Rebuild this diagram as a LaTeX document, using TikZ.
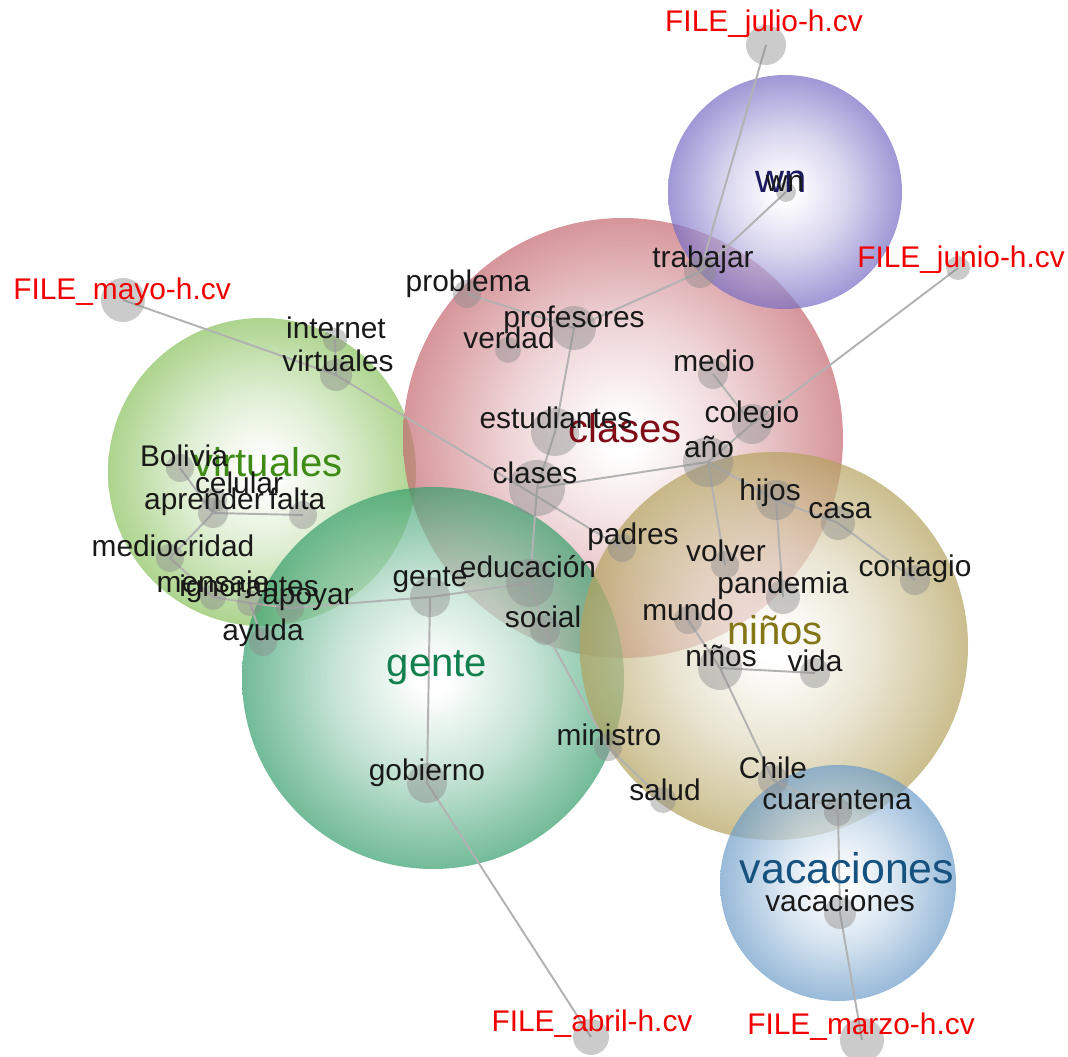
\documentclass[tikz,border=0pt]{standalone}
\usepackage{fontspec}
\setmainfont{Liberation Sans}
\usepackage{xcolor}
\usepackage{tikz}
\usetikzlibrary{calc}

\definecolor{clasesc}{RGB}{196,104,112}
\definecolor{virtc}{RGB}{138,194,94}
\definecolor{gentec}{RGB}{54,158,108}
\definecolor{ninosc}{RGB}{180,162,94}
\definecolor{wnc}{RGB}{118,108,196}
\definecolor{vacac}{RGB}{108,156,200}

\pgfdeclareradialshading{clasesbg}{\pgfpoint{0bp}{0bp}}{color(0bp)=(white); color(2bp)=(white); color(13bp)=(clasesc!40); color(25bp)=(clasesc); color(50bp)=(clasesc)}
\pgfdeclareradialshading{virtbg}{\pgfpoint{0bp}{0bp}}{color(0bp)=(white); color(2bp)=(white); color(13bp)=(virtc!40); color(25bp)=(virtc); color(50bp)=(virtc)}
\pgfdeclareradialshading{gentebg}{\pgfpoint{0bp}{0bp}}{color(0bp)=(white); color(2bp)=(white); color(13bp)=(gentec!40); color(25bp)=(gentec); color(50bp)=(gentec)}
\pgfdeclareradialshading{ninosbg}{\pgfpoint{0bp}{0bp}}{color(0bp)=(white); color(2bp)=(white); color(13bp)=(ninosc!40); color(25bp)=(ninosc); color(50bp)=(ninosc)}
\pgfdeclareradialshading{wnbg}{\pgfpoint{0bp}{0bp}}{color(0bp)=(white); color(2bp)=(white); color(13bp)=(wnc!40); color(25bp)=(wnc); color(50bp)=(wnc)}
\pgfdeclareradialshading{vacabg}{\pgfpoint{0bp}{0bp}}{color(0bp)=(white); color(2bp)=(white); color(13bp)=(vacac!40); color(25bp)=(vacac); color(50bp)=(vacac)}

\definecolor{clasest}{RGB}{128,12,24}
\definecolor{virtt}{RGB}{62,140,22}
\definecolor{gentet}{RGB}{18,128,78}
\definecolor{ninost}{RGB}{132,118,22}
\definecolor{wnt}{RGB}{28,26,96}
\definecolor{vacat}{RGB}{22,82,128}

\begin{document}
\begin{tikzpicture}[x=0.02cm, y=-0.02cm,
    word/.style={anchor=base, inner sep=0pt, text=black!90, font=\fontsize{17}{17}\selectfont},
    file/.style={word, text=red!95!black},
    topic/.style={anchor=base, inner sep=0pt, font=\fontsize{22.8}{23}\selectfont},
    dot/.style={fill=black!45, fill opacity=0.45},
    link/.style={draw=black!30, line width=1.1pt},
    bubble/.style={fill opacity=0.7}]
  \useasboundingbox (0,0) rectangle (1068,1057);

  % word positions
  \coordinate (julio) at (766,45);
  \coordinate (junio) at (958,268);
  \coordinate (mayo) at (123,300);
  \coordinate (abril) at (591,1037);
  \coordinate (marzo) at (862,1040);
  \coordinate (wn) at (786,192);
  \coordinate (trabajar) at (700,272);
  \coordinate (problema) at (467,294);
  \coordinate (profesores) at (574,328);
  \coordinate (verdad) at (508,350);
  \coordinate (internet) at (335,340);
  \coordinate (virtuales) at (336,375);
  \coordinate (medio) at (713,374);
  \coordinate (colegio) at (752,424);
  \coordinate (estudiantes) at (555,432);
  \coordinate (clases) at (537,488);
  \coordinate (anio) at (708,462);
  \coordinate (hijos) at (776,500);
  \coordinate (casa) at (838,523);
  \coordinate (contagio) at (915,580);
  \coordinate (padres) at (622,548);
  \coordinate (volver) at (725,565);
  \coordinate (pandemia) at (783,597);
  \coordinate (mundo) at (688,620);
  \coordinate (ninos) at (720,668);
  \coordinate (vida) at (815,673);
  \coordinate (educacion) at (530,583);
  \coordinate (gente) at (430,597);
  \coordinate (social) at (545,630);
  \coordinate (bolivia) at (180,468);
  \coordinate (celular) at (215,500);
  \coordinate (aprender) at (213,513);
  \coordinate (falta) at (303,515);
  \coordinate (mediocridad) at (170,558);
  \coordinate (mensaje) at (213,597);
  \coordinate (ignorantes) at (250,603);
  \coordinate (apoyar) at (290,608);
  \coordinate (ayuda) at (263,642);
  \coordinate (ministro) at (608,747);
  \coordinate (gobierno) at (427,783);
  \coordinate (salud) at (663,800);
  \coordinate (chile) at (773,780);
  \coordinate (cuarentena) at (838,812);
  \coordinate (vacaciones) at (840,913);

  % topic bubbles
  \shade[shading=virtbg, bubble] (262,472) circle (154);
  \shade[shading=clasesbg, bubble] (623,438) circle (220);
  \shade[shading=gentebg, bubble] (433,678) circle (191);
  \shade[shading=ninosbg, bubble] (774,646) circle (194);
  \shade[shading=wnbg, bubble] (785,192) circle (117);
  \shade[shading=vacabg, bubble] (838,883) circle (118);

  % links
  \draw[link] (julio) -- (trabajar);
  \draw[link] (wn) -- (trabajar);
  \draw[link] (trabajar) -- (profesores);
  \draw[link] (problema) -- (profesores);
  \draw[link] (profesores) -- (estudiantes);
  \draw[link] (estudiantes) -- (clases);
  \draw[link] (mayo) -- (virtuales);
  \draw[link] (internet) -- (virtuales);
  \draw[link] (virtuales) -- (padres);
  \draw[link] (clases) -- (anio);
  \draw[link] (clases) -- (educacion);
  \draw[link] (educacion) -- (gente);
  \draw[link] (educacion) -- (social);
  \draw[link] (social) -- (ministro);
  \draw[link] (ministro) -- (salud);
  \draw[link] (gente) -- (apoyar);
  \draw[link] (apoyar) -- (ignorantes);
  \draw[link] (ignorantes) -- (mensaje);
  \draw[link] (mensaje) -- (mediocridad);
  \draw[link] (mediocridad) -- (aprender);
  \draw[link] (aprender) -- (bolivia);
  \draw[link] (aprender) -- (falta);
  \draw[link] (aprender) -- (celular);
  \draw[link] (ignorantes) -- (ayuda);
  \draw[link] (gente) -- (gobierno);
  \draw[link] (gobierno) -- (abril);
  \draw[link] (anio) -- (colegio);
  \draw[link] (colegio) -- (medio);
  \draw[link] (colegio) -- (junio);
  \draw[link] (anio) -- (hijos);
  \draw[link] (anio) -- (volver);
  \draw[link] (hijos) -- (casa);
  \draw[link] (casa) -- (contagio);
  \draw[link] (hijos) -- (pandemia);
  \draw[link] (mundo) -- (ninos);
  \draw[link] (ninos) -- (vida);
  \draw[link] (ninos) -- (chile);
  \draw[link] (chile) -- (cuarentena);
  \draw[link] (cuarentena) -- (vacaciones);
  \draw[link] (vacaciones) -- (marzo);

  % dots
  \fill[dot] (julio) circle (20);
  \fill[dot] (junio) circle (12);
  \fill[dot] (mayo) circle (22);
  \fill[dot] (abril) circle (18);
  \fill[dot] (marzo) circle (22);
  \fill[dot] (wn) circle (10);
  \fill[dot] (trabajar) circle (16);
  \fill[dot] (problema) circle (14);
  \fill[dot] (profesores) circle (22);
  \fill[dot] (verdad) circle (13);
  \fill[dot] (internet) circle (12);
  \fill[dot] (virtuales) circle (16);
  \fill[dot] (medio) circle (15);
  \fill[dot] (colegio) circle (20);
  \fill[dot] (estudiantes) circle (24);
  \fill[dot] (clases) circle (28);
  \fill[dot] (anio) circle (25);
  \fill[dot] (hijos) circle (20);
  \fill[dot] (casa) circle (17);
  \fill[dot] (contagio) circle (15);
  \fill[dot] (padres) circle (14);
  \fill[dot] (volver) circle (14);
  \fill[dot] (pandemia) circle (17);
  \fill[dot] (mundo) circle (14);
  \fill[dot] (ninos) circle (22);
  \fill[dot] (vida) circle (15);
  \fill[dot] (educacion) circle (24);
  \fill[dot] (gente) circle (20);
  \fill[dot] (social) circle (15);
  \fill[dot] (bolivia) circle (14);
  \fill[dot] (celular) circle (12);
  \fill[dot] (aprender) circle (15);
  \fill[dot] (falta) circle (14);
  \fill[dot] (mediocridad) circle (14);
  \fill[dot] (mensaje) circle (13);
  \fill[dot] (ignorantes) circle (13);
  \fill[dot] (apoyar) circle (14);
  \fill[dot] (ayuda) circle (14);
  \fill[dot] (ministro) circle (14);
  \fill[dot] (gobierno) circle (20);
  \fill[dot] (salud) circle (13);
  \fill[dot] (chile) circle (15);
  \fill[dot] (cuarentena) circle (14);
  \fill[dot] (vacaciones) circle (16);

  % topic labels
  \node[topic, text=wnt] (wn-t) at (781,193) {wn};
  \node[topic, text=clasest] (clases-t) at (625,442) {clases};
  \node[topic, text=virtt] (virtuales-t) at (268,476) {virtuales};
  \node[topic, text=gentet] (gente-t) at (437,676) {gente};
  \node[topic, text=ninost] (ninos-t) at (775,644) {niños};
  \node[topic, text=vacat, font=\fontsize{24.4}{25}\selectfont] (vacaciones-t) at (847,883) {vacaciones};

  % word labels
  \node[file] (julio-l) at (764,32) {FILE\_julio-h.cv};
  \node[file] (junio-l) at (961,268) {FILE\_junio-h.cv};
  \node[file] (mayo-l) at (122,300) {FILE\_mayo-h.cv};
  \node[file] (abril-l) at (592,1031) {FILE\_abril-h.cv};
  \node[file] (marzo-l) at (861,1034) {FILE\_marzo-h.cv};
  \node[word] (wn-l) at (785,192) {wn};
  \node[word] (trabajar-l) at (703,268) {trabajar};
  \node[word] (problema-l) at (468,292) {problema};
  \node[word] (profesores-l) at (574,328) {profesores};
  \node[word] (verdad-l) at (509,349) {verdad};
  \node[word] (internet-l) at (336,338) {internet};
  \node[word] (virtuales-l) at (338,372) {virtuales};
  \node[word] (medio-l) at (714,372) {medio};
  \node[word] (colegio-l) at (752,422) {colegio};
  \node[word] (estudiantes-l) at (556,428) {estudiantes};
  \node[word] (clases-l) at (535,483) {clases};
  \node[word] (anio-l) at (709,457) {año};
  \node[word] (hijos-l) at (770,500) {hijos};
  \node[word] (casa-l) at (840,518) {casa};
  \node[word] (contagio-l) at (915,576) {contagio};
  \node[word] (padres-l) at (633,544) {padres};
  \node[word] (volver-l) at (726,561) {volver};
  \node[word] (pandemia-l) at (783,593) {pandemia};
  \node[word] (mundo-l) at (688,620) {mundo};
  \node[word] (ninos-l) at (721,666) {niños};
  \node[word] (vida-l) at (815,671) {vida};
  \node[word] (educacion-l) at (528,577) {educación};
  \node[word] (gente-l) at (430,586) {gente};
  \node[word] (social-l) at (543,627) {social};
  \node[word] (bolivia-l) at (184,466) {Bolivia};
  \node[word] (celular-l) at (239,493) {celular};
  \node[word] (aprender-l) at (204,509) {aprender};
  \node[word] (falta-l) at (297,509) {falta};
  \node[word] (mediocridad-l) at (173,556) {mediocridad};
  \node[word] (mensaje-l) at (213,592) {mensaje};
  \node[word] (ignorantes-l) at (249,596) {ignorantes};
  \node[word] (apoyar-l) at (308,604) {apoyar};
  \node[word] (ayuda-l) at (263,640) {ayuda};
  \node[word] (ministro-l) at (609,745) {ministro};
  \node[word] (gobierno-l) at (427,780) {gobierno};
  \node[word] (salud-l) at (665,800) {salud};
  \node[word] (chile-l) at (773,778) {Chile};
  \node[word] (cuarentena-l) at (837,809) {cuarentena};
  \node[word] (vacaciones-l) at (840,911) {vacaciones};
\end{tikzpicture}
\end{document}
